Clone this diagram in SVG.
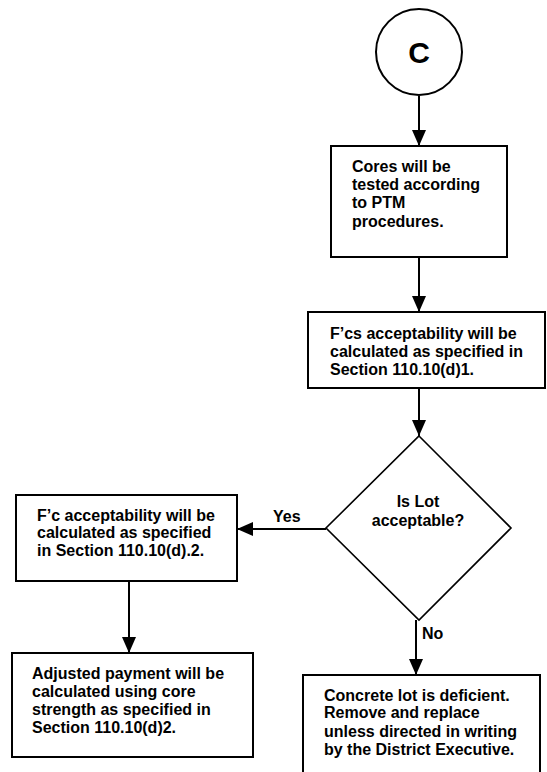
<svg xmlns="http://www.w3.org/2000/svg" width="547" height="772" viewBox="0 0 547 772">
<defs>
<style>
.box{fill:#fff;stroke:#000;stroke-width:2}
.t{font-family:"Liberation Sans",Arial,sans-serif;font-weight:bold;font-size:16px;fill:#000}
.c{text-anchor:middle}
.ln{fill:none;stroke:#000;stroke-width:2}
</style>
<marker id="ah" viewBox="0 0 16 14" refX="16" refY="7" markerWidth="16" markerHeight="14" markerUnits="userSpaceOnUse" orient="auto">
<path d="M0,0 L16,7 L0,14 Z" fill="#000"/>
</marker>
</defs>
<rect width="547" height="772" fill="#fff"/>
<g id="connectors">
<line class="ln" x1="419" y1="96" x2="419" y2="146" marker-end="url(#ah)"/>
<line class="ln" x1="419" y1="257" x2="419" y2="312" marker-end="url(#ah)"/>
<line class="ln" x1="419" y1="388" x2="419" y2="436" marker-end="url(#ah)"/>
<line class="ln" x1="326" y1="529" x2="237" y2="529" marker-end="url(#ah)"/>
<text class="t" x="273" y="522">Yes</text>
<line class="ln" x1="129" y1="581" x2="129" y2="653" marker-end="url(#ah)"/>
<line class="ln" x1="416" y1="620" x2="416" y2="675" marker-end="url(#ah)"/>
<text class="t" x="422" y="639">No</text>
</g>
<g id="start">
<circle cx="419" cy="52" r="43" fill="#fff" stroke="#000" stroke-width="2"/>
<text class="t c" x="419" y="63" style="font-size:30px">C</text>
</g>
<g id="cores">
<rect class="box" x="331" y="146" width="176" height="111"/>
<text class="t" x="352" y="172">Cores will be</text>
<text class="t" x="352" y="190">tested according</text>
<text class="t" x="352" y="208">to PTM</text>
<text class="t" x="352" y="227">procedures.</text>
</g>
<g id="fcs">
<rect class="box" x="308" y="312" width="237" height="76"/>
<text class="t" x="330" y="339">F’cs acceptability will be</text>
<text class="t" x="330" y="357">calculated as specified in</text>
<text class="t" x="330" y="375">Section 110.10(d)1.</text>
</g>
<g id="decision">
<polygon points="419,436 511,528 419,620 326,528" fill="#fff" stroke="#000" stroke-width="1.6"/>
<text class="t c" x="418" y="507">Is Lot</text>
<text class="t c" x="418" y="526">acceptable?</text>
</g>
<g id="fc">
<rect class="box" x="16" y="495" width="221" height="86"/>
<text class="t" x="37" y="521">F’c acceptability will be</text>
<text class="t" x="37" y="538">calculated as specified</text>
<text class="t" x="37" y="556">in Section 110.10(d).2.</text>
</g>
<g id="adjusted">
<rect class="box" x="12" y="653" width="241" height="104"/>
<text class="t" x="32" y="679">Adjusted payment will be</text>
<text class="t" x="32" y="697">calculated using core</text>
<text class="t" x="32" y="715">strength as specified in</text>
<text class="t" x="32" y="733">Section 110.10(d)2.</text>
</g>
<g id="deficient">
<rect class="box" x="303" y="675" width="237" height="110"/>
<text class="t" x="324" y="701">Concrete lot is deficient.</text>
<text class="t" x="324" y="718">Remove and replace</text>
<text class="t" x="324" y="737">unless directed in writing</text>
<text class="t" x="324" y="755">by the District Executive.</text>
</g>
</svg>
